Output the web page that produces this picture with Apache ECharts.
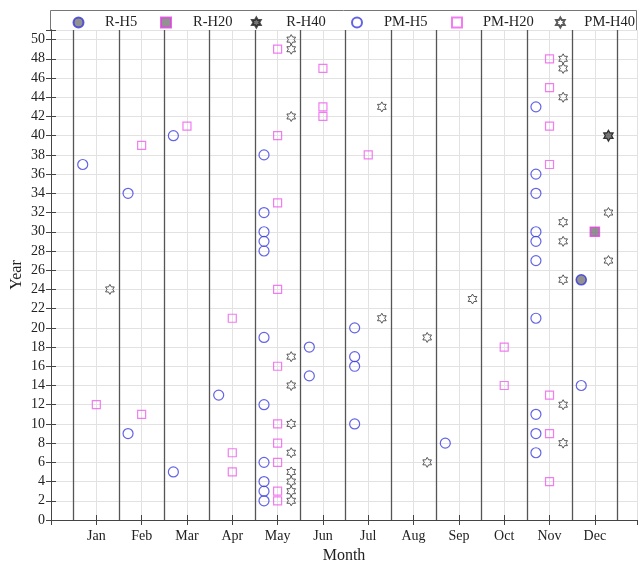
<!DOCTYPE html>
<html>
<head>
<meta charset="utf-8">
<script src="https://cdn.jsdelivr.net/npm/echarts@6/dist/echarts.min.js"></script>
<style>html,body{margin:0;padding:0;background:#fff;}#c{width:638px;height:564px;}</style>
</head>
<body>
<div id="c"></div>
<script>
// ---- data ----
const months = ['Jan','Feb','Mar','Apr','May','Jun','Jul','Aug','Sep','Oct','Nov','Dec'];
const yTicks = [0,2,4,6,8,10,12,14,16,18,20,22,24,26,28,30,32,34,36,38,40,42,44,46,48,50];
// years per month (Jan..Dec)
const rH5   = [[],[],[],[],[],[],[],[],[],[],[],[25]];
const rH20  = [[],[],[],[],[],[],[],[],[],[],[],[30]];
const rH40  = [[],[],[],[],[],[],[],[],[],[],[],[40]];
const pmH5  = [[37],[34,9],[40,5],[13],[38,32,30,29,28,19,12,6,4,3,2],[18,15],[20,17,16,10],[],[8],[],[43,36,34,30,29,27,21,11,9,7],[14]];
const pmH20 = [[12],[39,11],[41],[21,7,5],[49,40,33,24,16,10,8,6,3,2],[47,43,42],[38],[],[],[18,14],[48,45,41,37,13,9,4],[]];
const pmH40 = [[24],[],[],[],[50,49,42,17,14,10,7,5,4,3,2],[],[43,21],[19,6],[23],[],[48,47,44,31,29,25,12,8],[40,32,27]];

// ---- helpers ----
const offsets = {H5: -0.3, H20: 0, H40: 0.3};
function build(arr, off) {
  const out = [];
  arr.forEach((ys, i) => ys.forEach(y => out.push([i + 1 + off, y])));
  return out;
}
function hexagram() {
  const pts = [];
  for (let i = 0; i < 12; i++) {
    const a = (-90 + i * 30) * Math.PI / 180;
    const r = i % 2 === 0 ? 10 : 5.7735;
    pts.push((10 + r * Math.cos(a)).toFixed(3) + ' ' + (10 + r * Math.sin(a)).toFixed(3));
  }
  return 'path://M' + pts.join(' L') + ' Z';
}
const star = hexagram();
const serif = 'Liberation Serif';
const boundaries = [];
for (let i = 0; i <= months.length; i++) boundaries.push({xAxis: i + 0.5});

const chart = echarts.init(document.getElementById('c'), null, {renderer: 'canvas'});
// icon centre / text start for each legend entry
const legendPos = [
  {name: 'R-H5', icon: 77.5, text: 104},
  {name: 'R-H20', icon: 165, text: 192},
  {name: 'R-H40', icon: 256, text: 286},
  {name: 'PM-H5', icon: 356, text: 383},
  {name: 'PM-H20', icon: 456, text: 482},
  {name: 'PM-H40', icon: 560, text: 584}
];
chart.setOption({
  animation: false,
  backgroundColor: '#fff',
  graphic: [{type: 'rect', z: 0, shape: {x: 50.5, y: 10.5, width: 586, height: 20},
    style: {fill: '#fff', stroke: '#777', lineWidth: 1}}],
  legend: legendPos.map(l => ({
    data: [l.name], left: l.icon - 5, top: 15, itemWidth: 10, itemHeight: 10, padding: 0,
    textStyle: {fontFamily: serif, fontSize: 14.5, color: '#222',
      padding: [0, 0, 0, l.text - (l.icon - 5) - 15]},
    selectedMode: false, z: 5
  })),
  grid: {left: 51, right: 1, top: 30, bottom: 44, containLabel: false, outerBoundsMode: 'none'},
  xAxis: [{
    type: 'value', min: 0, max: 12.93, interval: 1, position: 'bottom',
    name: 'Month', nameLocation: 'middle', nameGap: 28, nameMoveOverlap: false,
    nameTextStyle: {fontFamily: serif, fontSize: 16, color: '#222'},
    axisLine: {show: true, lineStyle: {color: '#444', width: 1}},
    axisTick: {show: true, inside: true, length: 5, lineStyle: {color: '#444'}},
    axisLabel: {fontFamily: serif, fontSize: 14, color: '#222', margin: 9, showMaxLabel: false,
      formatter: v => (Number.isInteger(v) && v >= 1 && v <= 12) ? months[v - 1] : ''},
    splitLine: {show: true, lineStyle: {color: '#e2e2e2', width: 1}}
  }, {
    type: 'value', min: 0, max: 12.93, interval: 1, position: 'top',
    axisLine: {show: true, lineStyle: {color: '#444', width: 1}},
    axisTick: {show: true, inside: true, length: 5, lineStyle: {color: '#444'}},
    axisLabel: {show: false}, splitLine: {show: false}
  }],
  yAxis: [{
    type: 'value', min: 0, max: 51, interval: 2, position: 'left',
    name: 'Year', nameLocation: 'middle', nameGap: 26, nameMoveOverlap: false,
    nameTextStyle: {fontFamily: serif, fontSize: 16, color: '#222'},
    axisLine: {show: true, lineStyle: {color: '#444', width: 1}},
    axisTick: {show: true, inside: true, length: 5, lineStyle: {color: '#444'}},
    axisLabel: {fontFamily: serif, fontSize: 14, color: '#222', margin: 6,
      formatter: v => yTicks.indexOf(v) >= 0 ? String(v) : ''},
    splitLine: {show: true, lineStyle: {color: '#e2e2e2', width: 1}}
  }, {
    type: 'value', min: 0, max: 51, interval: 2, position: 'right',
    axisLine: {show: true, lineStyle: {color: '#444', width: 1}},
    axisTick: {show: true, inside: true, length: 5, lineStyle: {color: '#444'}},
    axisLabel: {show: false}, splitLine: {show: false}
  }],
  series: [
    {name: 'R-H5', type: 'scatter', symbol: 'circle', symbolSize: 10, z: 3,
      itemStyle: {color: '#777', borderColor: '#3434d8', borderWidth: 1.6},
      data: build(rH5, offsets.H5)},
    {name: 'R-H20', type: 'scatter', symbol: 'rect', symbolSize: 9, z: 3,
      itemStyle: {color: '#777', borderColor: '#e040e0', borderWidth: 1.6},
      data: build(rH20, offsets.H20)},
    {name: 'R-H40', type: 'scatter', symbol: star, symbolSize: 11, symbolKeepAspect: true, z: 3,
      itemStyle: {color: '#555', borderColor: '#222', borderWidth: 1.2},
      data: build(rH40, offsets.H40)},
    {name: 'PM-H5', type: 'scatter', symbol: 'circle', symbolSize: 10, z: 2,
      itemStyle: {color: 'rgba(0,0,0,0)', borderColor: '#3c3ce0', borderWidth: 1.2},
      data: build(pmH5, offsets.H5)},
    {name: 'PM-H20', type: 'scatter', symbol: 'rect', symbolSize: 8, z: 2,
      itemStyle: {color: 'rgba(0,0,0,0)', borderColor: '#ee5cee', borderWidth: 1.2},
      data: build(pmH20, offsets.H20)},
    {name: 'PM-H40', type: 'scatter', symbol: star, symbolSize: 10, symbolKeepAspect: true, z: 2,
      itemStyle: {color: 'rgba(0,0,0,0)', borderColor: '#333', borderWidth: 1},
      data: build(pmH40, offsets.H40)},
    {name: 'bounds', type: 'scatter', data: [], silent: true, z: 1,
      markLine: {silent: true, symbol: 'none', animation: false, label: {show: false},
        lineStyle: {color: '#555', width: 1.3, type: 'solid'}, data: boundaries}}
  ]
});
</script>
</body>
</html>
